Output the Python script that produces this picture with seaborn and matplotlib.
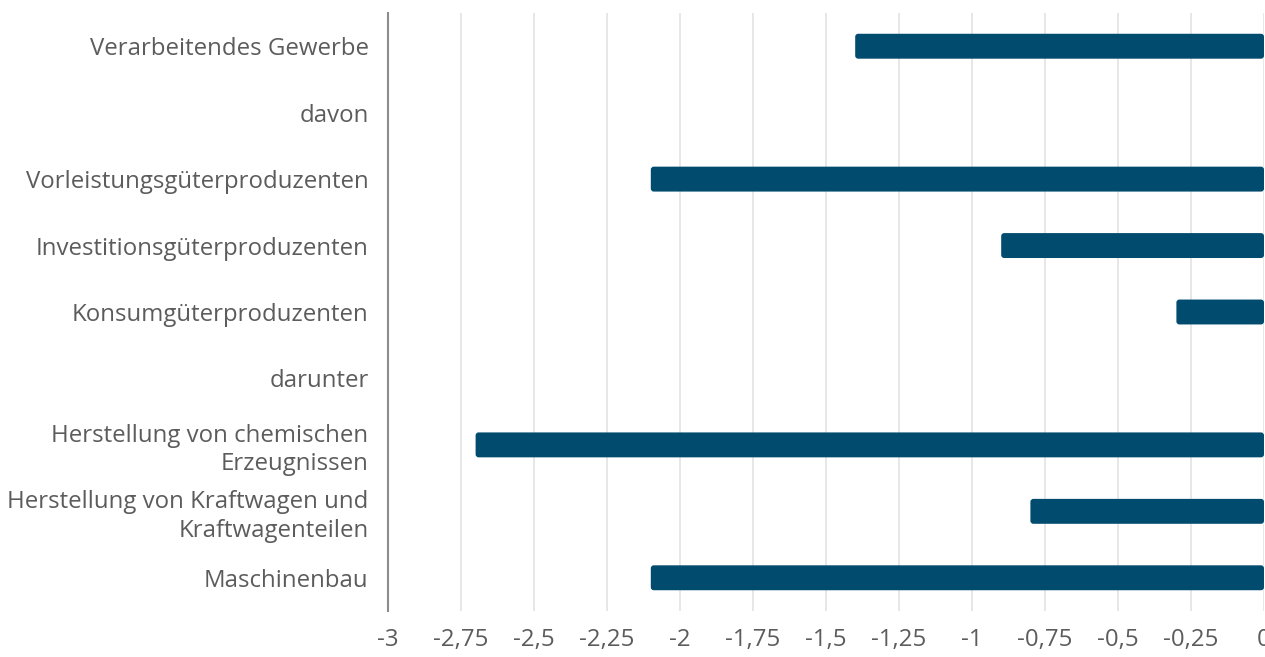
import matplotlib
matplotlib.use("Agg")
import matplotlib.pyplot as plt
import matplotlib.ticker as mticker
from matplotlib.patches import FancyBboxPatch
import numpy as np
import pandas as pd
import seaborn as sns

categories = [
    "Verarbeitendes Gewerbe",
    "davon",
    "Vorleistungsgüterproduzenten",
    "Investitionsgüterproduzenten",
    "Konsumgüterproduzenten",
    "darunter",
    "Herstellung von chemischen\nErzeugnissen",
    "Herstellung von Kraftwagen und\nKraftwagenteilen",
    "Maschinenbau",
]
values = [-1.4, np.nan, -2.1, -0.9, -0.3, np.nan, -2.7, -0.8, -2.1]
x_ticks = [-3, -2.75, -2.5, -2.25, -2, -1.75, -1.5, -1.25, -1, -0.75, -0.5, -0.25, 0]

df = pd.DataFrame({"kategorie": categories, "wert": values})

sns.set_style("white")
plt.rcParams["font.family"] = ["Open Sans", "DejaVu Sans"]

fig = plt.figure(figsize=(12.65, 6.57), dpi=100)
ax = fig.add_axes([388 / 1265, 1 - 611 / 657, (1264 - 388) / 1265, 598 / 657])

sns.barplot(data=df, x="wert", y="kategorie", orient="h", color="#004b6e",
            width=0.375, ax=ax, zorder=3, saturation=1)

ax.set_xlim(-3, 0)
ax.set_ylim(8.5, -0.5)

# rounded bar corners (~3 px radius)
for p in list(ax.patches):
    x0, y0, w, h = p.get_x(), p.get_y(), p.get_width(), p.get_height()
    if np.isnan(w) or w == 0:
        continue
    rx = 3 / 292
    ry = 3 / 66.5
    fb = FancyBboxPatch((min(x0, x0 + w), y0), abs(w), h,
                        boxstyle=f"round,pad=0,rounding_size={rx}",
                        mutation_aspect=ry / rx, facecolor=p.get_facecolor(),
                        edgecolor="none", zorder=3)
    p.remove()
    ax.add_patch(fb)

ax.set_xticks(x_ticks)
ax.xaxis.set_major_formatter(mticker.FuncFormatter(lambda v, p: f"{v:g}".replace(".", ",")))
ax.grid(axis="x", color="#e3e3e3", linewidth=1.2, zorder=0)
ax.set_xlabel("")
ax.set_ylabel("")
for s in ["top", "right", "bottom"]:
    ax.spines[s].set_visible(False)
ax.spines["left"].set_color("#8c8c8c")
ax.spines["left"].set_linewidth(1.5)
ax.tick_params(axis="both", length=0, labelsize=17.3, labelcolor="#5c5c5c")
ax.tick_params(axis="x", pad=12)
ax.tick_params(axis="y", pad=14)
for lbl in ax.get_yticklabels():
    lbl.set_horizontalalignment("right")
    lbl.set_multialignment("right")
    lbl.set_linespacing(1.25)

fig.savefig("out.png", dpi=100)
